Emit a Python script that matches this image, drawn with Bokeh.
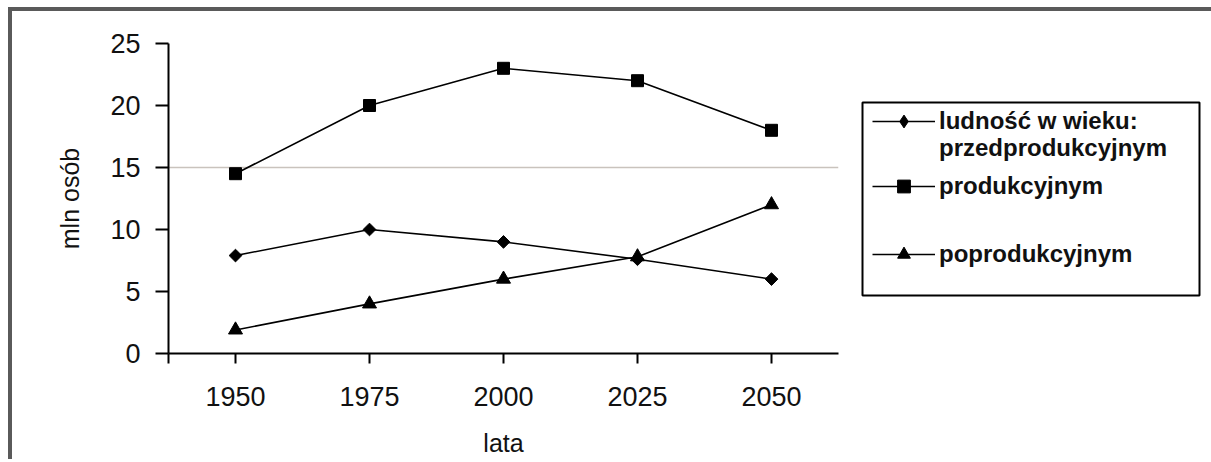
import numpy as np
from bokeh.plotting import figure
from bokeh.layouts import row
from bokeh.models import (Range1d, FixedTicker, Legend, LegendItem, ColumnDataSource,
                          BoxAnnotation)
from bokeh.embed import file_html
from bokeh.resources import INLINE

years = [1950, 1975, 2000, 2025, 2050]
przed = [7.9, 10.0, 9.0, 7.6, 6.0]
prod = [14.5, 20.0, 23.0, 22.0, 18.0]
popr = [1.9, 4.0, 6.0, 7.8, 12.0]
y_ticks = [0, 5, 10, 15, 20, 25]
x_label = "lata"
y_label = "mln osób"
legend_head = "ludność w wieku:"
names = ["przedprodukcyjnym", "produkcyjnym", "poprodukcyjnym"]

FONT = "Liberation Sans"
LW = 1.6
H = 448
TOP = 43 - 11          # frame top inside the canvas
BOT = H - (354 - 11)   # space under the frame

p = figure(width=838, height=H, output_backend="svg", toolbar_location=None,
           x_range=Range1d(1937.5, 2062.5), y_range=Range1d(0, 25),
           min_border_left=156, min_border_right=12, min_border_top=TOP,
           min_border_bottom=BOT)
p.outline_line_color = None

src = ColumnDataSource(dict(x=years, przed=przed, prod=prod, popr=popr))

for ax in (p.xaxis[0], p.yaxis[0]):
    ax.axis_line_width = 2
    ax.axis_line_color = "black"
    ax.major_tick_line_width = 2
    ax.major_tick_line_color = "black"
    ax.minor_tick_line_color = None
    ax.major_tick_in = 0
    ax.major_label_text_font = FONT
    ax.major_label_text_font_size = "27px"
    ax.major_label_text_color = "#111111"
    ax.axis_label_text_font = FONT
    ax.axis_label_text_font_size = "25px"
    ax.axis_label_text_font_style = "normal"
    ax.axis_label_text_color = "#111111"

p.xaxis.ticker = FixedTicker(ticks=[1937.5] + years)
p.xaxis.major_label_overrides = {1937.5: ""}
p.xaxis.major_tick_out = 10
p.xaxis.major_label_standoff = 23
p.xaxis.axis_label = x_label
p.xaxis.axis_label_standoff = 20

p.yaxis.ticker = FixedTicker(ticks=y_ticks)
p.yaxis.major_tick_out = 13
p.yaxis.major_label_standoff = 15
p.yaxis.axis_label = y_label
p.yaxis.axis_label_standoff = 23

p.xgrid.grid_line_color = None
p.ygrid.ticker = FixedTicker(ticks=[15])
p.ygrid.grid_line_color = "#c9c3bd"
p.ygrid.grid_line_width = 1.5

p.line("x", "przed", source=src, line_color="black", line_width=LW)
p.scatter("x", "przed", source=src, marker="square", angle=np.pi / 4, size=9,
          fill_color="black", line_color="black")
p.line("x", "prod", source=src, line_color="black", line_width=LW)
p.scatter("x", "prod", source=src, marker="square", size=12,
          fill_color="black", line_color="black")
p.line("x", "popr", source=src, line_color="black", line_width=LW)
p.scatter("x", "popr", source=src, marker="triangle", size=14,
          fill_color="black", line_color="black")

# legend panel (same vertical frame as the chart, so the row keeps them aligned)
q = figure(width=361, height=H, output_backend="svg", toolbar_location=None,
           x_range=Range1d(0, 1), y_range=Range1d(0, 1),
           x_axis_type=None, y_axis_type=None,
           min_border_left=0, min_border_right=0, min_border_top=TOP,
           min_border_bottom=BOT)
q.grid.visible = False
q.outline_line_color = None

# legend samples: same series, out of this panel's visible range
ql1 = q.line("x", "przed", source=src, line_color="black", line_width=LW)
qm1 = q.scatter("x", "przed", source=src, marker="diamond",
                fill_color="black", line_color="black")
qb = q.line("x", "przed", source=src, line_alpha=0)
ql2 = q.line("x", "prod", source=src, line_color="black", line_width=LW)
qm2 = q.scatter("x", "prod", source=src, marker="square",
                fill_color="black", line_color="black")
ql3 = q.line("x", "popr", source=src, line_color="black", line_width=LW)
qm3 = q.scatter("x", "popr", source=src, marker="triangle",
                fill_color="black", line_color="black")

def mk_legend(items, gh, spacing, loc):
    return Legend(items=items, location=loc, padding=0, margin=0, spacing=spacing,
                  glyph_width=63, glyph_height=gh, label_height=gh, label_standoff=4,
                  label_text_font=FONT, label_text_font_size="24px",
                  label_text_font_style="bold", label_text_color="#111111",
                  border_line_alpha=0, background_fill_alpha=0)

legA = mk_legend([LegendItem(label=legend_head, renderers=[ql1, qm1])], 32, 0, (22, 216))
legC = mk_legend([LegendItem(label=names[0], renderers=[qb])], 26, 0, (22, 191))
legB = mk_legend([LegendItem(label=names[1], renderers=[ql2, qm2]),
                  LegendItem(label=names[2], renderers=[ql3, qm3])], 32, 36, (22, 83))
q.add_layout(legA, "center")
q.add_layout(legC, "center")
q.add_layout(legB, "center")

q.add_layout(BoxAnnotation(left=12, right=349, top=91, bottom=284,
                           left_units="canvas", right_units="canvas",
                           top_units="canvas", bottom_units="canvas",
                           fill_alpha=0, line_color="black", line_alpha=1,
                           line_width=2))

layout = row(p, q, spacing=0,
             styles={"border-top": "4px solid #5a5a5a",
                     "border-left": "4px solid #5a5a5a",
                     "margin-top": "7px", "margin-left": "8px"})

open("out.html", "w").write(file_html(layout, INLINE))
